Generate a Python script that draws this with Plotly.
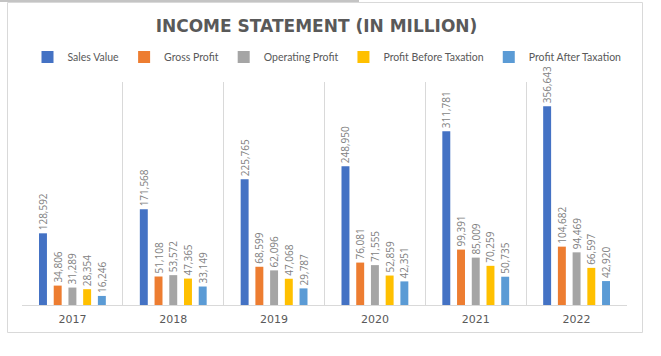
import plotly.graph_objects as go

years = ["2017", "2018", "2019", "2020", "2021", "2022"]
series_names = ["Sales Value", "Gross Profit", "Operating Profit",
                "Profit Before Taxation", "Profit After Taxation"]
sales_value = [128592, 171568, 225765, 248950, 311781, 356643]
gross_profit = [34806, 51108, 68599, 76081, 99391, 104682]
operating_profit = [31289, 53572, 62096, 71555, 85009, 94469]
profit_before_tax = [28354, 47365, 47068, 52859, 70259, 66597]
profit_after_tax = [16246, 33149, 29787, 42351, 50735, 42920]
colors = ["#4472C4", "#ED7D31", "#A5A5A5", "#FFC000", "#5B9BD5"]

all_values = [sales_value, gross_profit, operating_profit,
              profit_before_tax, profit_after_tax]

W, H = 661, 356
L, R, T, B = 22, 34, 82, 51
pw, ph = W - L - R, H - T - B


def px_x(p):
    return (p - L) / pw


def px_y(p):
    return (H - B - p) / ph


fig = go.Figure()
for name, vals, col in zip(series_names, all_values, colors):
    fig.add_trace(go.Bar(
        name=name, x=years, y=vals,
        marker=dict(color=col, line=dict(width=0)),
        texttemplate="%{y:,.0f}",
        textposition="outside",
        textangle=-90,
        constraintext="none",
        cliponaxis=False,
        textfont=dict(family="Open Sans", size=10, color="#7F7F7F"),
    ))

fig.update_layout(
    width=W, height=H,
    margin=dict(l=L, r=R, t=T, b=B),
    paper_bgcolor="white", plot_bgcolor="white",
    barmode="group", bargap=0.27, bargroupgap=0.46,
    title=dict(text="INCOME STATEMENT (IN MILLION)",
               x=316.5 / W, xanchor="center",
               y=1 - 26 / H, yanchor="middle",
               font=dict(family="DejaVu Sans", size=17, color="#595959",
                         weight="bold")),
    legend=dict(orientation="h", x=px_x(327), xanchor="center",
                y=px_y(57), yanchor="middle",
                font=dict(family="Lato", size=10.5, color="#595959"),
                bgcolor="rgba(0,0,0,0)"),
    showlegend=True,
    xaxis=dict(type="category", tickson="boundaries", showgrid=True,
               gridcolor="#D9D9D9", gridwidth=1, showline=True,
               linecolor="#D9D9D9", linewidth=1, ticks="",
               ticklabelstandoff=4,
               tickfont=dict(family="DejaVu Sans", size=11, color="#595959"),
               fixedrange=True),
    yaxis=dict(visible=False, range=[0, 400000], showgrid=False,
               fixedrange=True),
    shapes=[
        dict(type="rect", xref="paper", yref="paper",
             x0=px_x(7.5), x1=px_x(642.5), y0=px_y(332.5), y1=px_y(2.5),
             line=dict(color="#D9D9D9", width=1), fillcolor="rgba(0,0,0,0)",
             layer="below"),
        dict(type="rect", xref="paper", yref="paper",
             x0=px_x(0), x1=px_x(359), y0=px_y(2), y1=px_y(0),
             line=dict(width=0), fillcolor="#C4C4C4", layer="above"),
    ],
)

fig.write_html("out.html")
